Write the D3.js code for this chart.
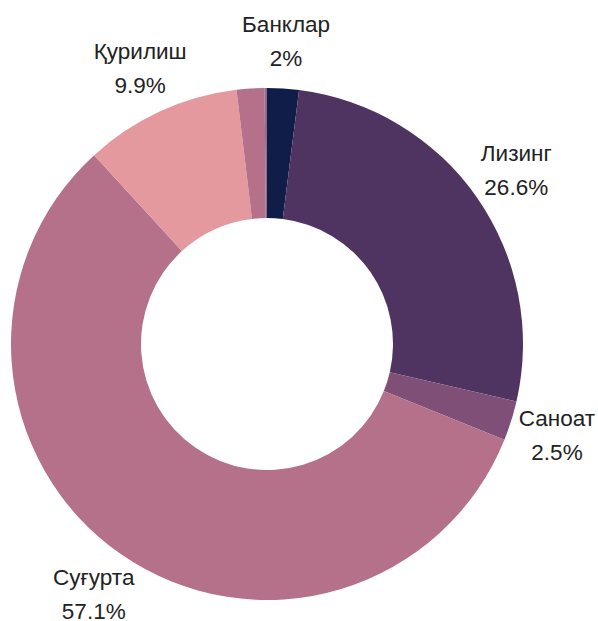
<!DOCTYPE html>
<html>
<head>
<meta charset="utf-8">
<script src="https://cdn.jsdelivr.net/npm/d3@7"></script>
<style>
  body { margin: 0; background: #fff; }
  text { font-family: "Liberation Sans", Arial, sans-serif; }
</style>
</head>
<body>
<svg id="chart" width="598" height="621"></svg>
<script>
// data
var names = ["Банклар", "Лизинг", "Саноат", "Суғурта", "Қурилиш", "", ""];
var values = [2, 26.6, 2.5, 57.1, 9.9, 1.75, 0.15];
var labels = ["2%", "26.6%", "2.5%", "57.1%", "9.9%", "", ""];
var colors = ["#0f1d48", "#4f3462", "#7f4f77", "#b5708a", "#e4999f", "#b5708a", "#8e6d8c"];

var cx = 267, cy = 344, outerR = 256, innerR = 126, labelR = 304;

var svg = d3.select("svg#chart");
var g = svg.append("g").attr("transform", "translate(" + cx + "," + cy + ")");

var pie = d3.pie().sort(null).value(d => d);
var arcs = pie(values);
var arc = d3.arc().innerRadius(innerR).outerRadius(outerR);

g.selectAll("path").data(arcs).enter()
  .append("path")
  .attr("d", arc)
  .attr("fill", (d, i) => colors[i]);

// labels along the middle angle of each slice
var lab = d3.arc().innerRadius(labelR).outerRadius(labelR);
var t = g.selectAll("text.lbl").data(arcs.filter((d, i) => names[i] !== ""))
  .enter().append("text")
  .attr("class", "lbl")
  .attr("text-anchor", "middle")
  .attr("font-size", 22.5)
  .attr("fill", "#222")
  .attr("transform", d => "translate(" + lab.centroid(d) + ")");

t.append("tspan").attr("x", 0).attr("y", -9).text(d => names[d.index]);
t.append("tspan").attr("x", 0).attr("y", 25).text(d => labels[d.index]);
</script>
</body>
</html>
